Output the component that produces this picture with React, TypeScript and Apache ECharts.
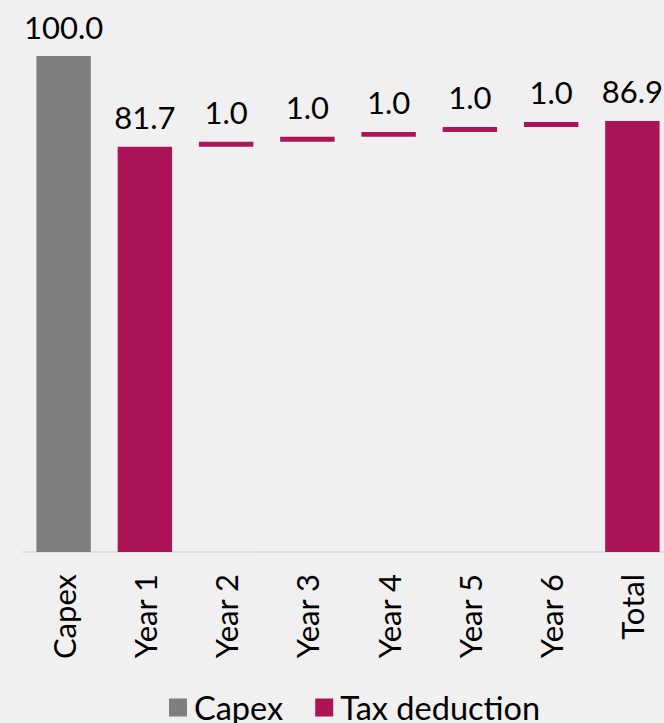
import React, { useEffect, useRef } from "react";
import * as echarts from "echarts";

const categories = ["Capex", "Year 1", "Year 2", "Year 3", "Year 4", "Year 5", "Year 6", "Total"];
const capexValues: (number | null)[] = [100.0, null, null, null, null, null, null, null];
const deductionValues: (number | null)[] = [null, 81.7, 1.0, 1.0, 1.0, 1.0, 1.0, 86.9];
const isTotal = [false, false, false, false, false, false, false, true];

const GRAY = "#7f7f7f";
const MAGENTA = "#ad1457";
const FONT = "Lato";
const FS = 31;

export default function App() {
  const ref = useRef<HTMLDivElement>(null);
  useEffect(() => {
    if (!ref.current) return;
    const chart = echarts.init(ref.current, null, { renderer: "svg" });
    // waterfall offsets: running sum of previous deductions (totals start at 0)
    const base: number[] = [];
    let running = 0;
    deductionValues.forEach((v, i) => {
      if (v == null || isTotal[i]) {
        base.push(0);
      } else {
        base.push(running);
        running += v;
      }
    });
    const label = {
      show: true,
      position: "top" as const,
      distance: 14,
      fontFamily: FONT,
      fontSize: FS,
      color: "#000",
      formatter: (p: any) => (p.value == null ? "" : Number(p.value).toFixed(1)),
    };
    chart.setOption({
      animation: false,
      backgroundColor: "#f0f0f0",
      textStyle: { fontFamily: FONT },
      grid: { left: 23, right: -9, top: 56, bottom: 171, outerBoundsMode: "none", containLabel: false },
      legend: {
        data: ["Capex", "Tax deduction"],
        left: 164,
        top: 686,
        icon: "rect",
        itemWidth: 18,
        itemHeight: 18,
        itemGap: 32,
        textStyle: { fontFamily: FONT, fontSize: 32.5, color: "#000", padding: [0, 0, 0, 2] },
      },
      xAxis: {
        type: "category",
        data: categories,
        axisLine: { show: true, lineStyle: { color: "#d9d9d9", width: 1.5 } },
        axisTick: { show: false },
        axisLabel: { rotate: 90, margin: 22, fontFamily: FONT, fontSize: FS, color: "#000" },
      },
      yAxis: { type: "value", min: 0, max: 100, show: false, splitLine: { show: false } },
      series: [
        {
          name: "base",
          type: "bar",
          stack: "w",
          data: base,
          itemStyle: { color: "transparent" },
          barCategoryGap: "33%",
          silent: true,
        },
        {
          name: "Capex",
          type: "bar",
          stack: "w",
          data: capexValues,
          itemStyle: { color: GRAY },
          label,
        },
        {
          name: "Tax deduction",
          type: "bar",
          stack: "w",
          data: deductionValues,
          itemStyle: { color: MAGENTA },
          label,
        },
      ],
    });
    return () => chart.dispose();
  }, []);
  return (
    <div
      ref={ref}
      style={{ position: "fixed", left: 0, top: 0, width: 664, height: 723 }}
    />
  );
}
